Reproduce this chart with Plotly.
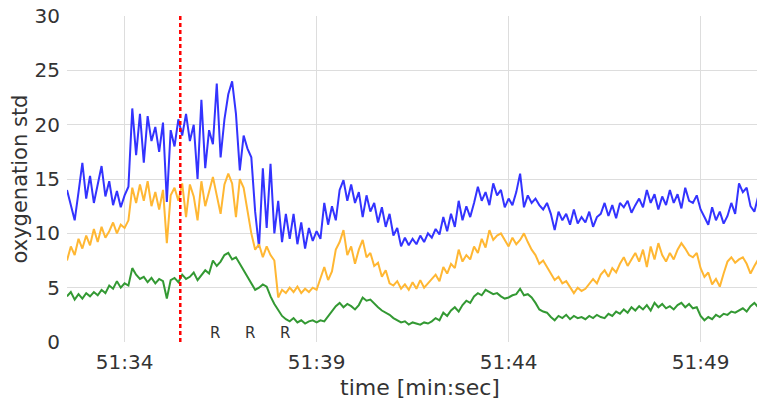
import numpy as np
import plotly.graph_objects as go

# time in seconds past 51:00, sampled every 0.1 s
t_start = 32.5
n_pts = 183
time_s = [round(t_start + 0.1 * i, 2) for i in range(n_pts)]

blue_vals = [
    14.0, 12.5, 11.2, 13.8, 16.5,
    13.2, 15.3, 12.8, 14.6, 16.2, 13.4, 14.8, 12.6, 13.9, 12.4,
    13.5, 14.3, 21.5, 17.2, 21.0, 16.5, 20.8, 18.5, 19.8, 17.5,
    20.2, 12.9, 19.5, 18.0, 20.5, 19.0, 21.0, 18.5, 20.0, 15.0,
    22.3, 16.0, 19.5, 18.2, 23.8, 17.0, 20.5, 22.8, 24.0, 21.0,
    15.8, 19.0, 17.8, 17.0, 12.0, 8.7, 16.0, 10.5, 16.4, 10.0,
    13.0, 9.2, 11.8, 9.5, 11.8, 9.0, 11.0, 8.6, 10.5, 9.3,
    10.2, 9.5, 12.8, 10.8, 12.5, 11.2, 14.0, 14.9, 13.0, 14.5,
    12.8, 13.8, 11.5, 13.5, 12.0, 12.8, 11.0, 12.4, 10.6, 11.8,
    9.8, 10.5, 8.8, 9.6, 8.9, 9.5, 9.0, 9.8, 9.2, 10.0,
    9.6, 10.4, 9.9, 11.5, 10.2, 11.8, 10.6, 13.0, 11.2, 12.5,
    11.5, 12.8, 14.3, 13.0, 13.8, 12.6, 14.6, 13.5, 14.0, 12.4,
    13.2, 12.6, 13.8, 15.5, 12.4, 13.5, 12.8, 13.2, 12.6, 12.2,
    12.8, 11.8, 10.3, 12.0, 11.2, 11.8, 10.8, 12.2, 10.9, 11.5,
    11.0, 12.0, 10.6, 11.5, 11.8, 12.8, 11.6, 12.6, 11.4, 12.8,
    12.4, 13.0, 11.9, 12.6, 13.2, 12.4, 14.0, 12.8, 13.6, 12.2,
    13.4, 12.6, 14.0, 12.8, 13.6, 12.3, 14.2, 13.0, 12.8, 13.5,
    12.2, 11.5, 10.8, 12.4, 11.2, 12.0, 10.9, 11.6, 12.8, 11.8,
    14.6, 13.8, 14.2, 12.5, 12.0, 13.4, 12.6, 13.2,
]

orange_vals = [
    7.5, 8.8, 8.0, 9.5, 8.6,
    9.8, 8.9, 10.4, 9.2, 10.6, 9.6, 10.2, 11.0, 10.0, 10.8,
    10.5, 11.2, 14.2, 12.8, 14.5, 13.0, 14.8, 12.5, 13.8, 12.2,
    14.0, 9.1, 13.5, 14.2, 13.0, 14.6, 11.5, 14.5, 13.4, 11.2,
    14.8, 12.5, 13.8, 15.2, 13.5, 11.8, 14.5, 15.5, 14.6, 11.5,
    15.0, 14.2, 12.1, 10.0, 8.5, 9.0, 7.8, 8.8, 8.0, 7.5,
    4.1, 4.8, 4.5, 5.0, 4.6, 5.1, 4.5, 4.9, 4.6, 5.0,
    4.8, 5.8, 6.9, 5.7, 6.5, 8.5, 9.2, 10.3, 8.0, 8.8,
    7.2, 8.5, 9.4, 7.8, 8.2, 7.0, 7.3, 6.0, 6.6, 5.4,
    5.2, 5.6, 4.9, 5.3, 4.8, 5.5, 4.9, 5.7, 5.0, 5.4,
    5.8, 6.2, 5.6, 6.9, 6.3, 7.2, 6.8, 8.5, 7.4, 8.0,
    7.6, 8.8, 8.2, 9.5, 8.7, 10.3, 9.4, 9.8, 10.0, 9.4,
    8.8, 9.6, 9.0, 9.4, 10.0, 9.2, 8.5, 8.0, 7.2, 7.5,
    6.9, 6.2, 5.7, 6.0, 5.4, 5.6, 5.1, 4.5, 5.0, 4.7,
    4.9, 5.3, 5.8, 5.4, 6.2, 6.6, 6.0, 6.8, 6.4, 7.2,
    7.8, 7.0, 7.6, 8.2, 7.4, 8.5, 6.9, 8.8, 7.6, 9.1,
    8.0, 7.4, 8.2, 7.6, 8.5, 9.1, 8.6, 8.0, 7.8, 8.2,
    6.8, 6.0, 6.4, 5.3, 5.8, 5.1, 6.3, 7.4, 7.8, 7.3,
    7.6, 7.8, 7.2, 6.3, 7.0, 7.6, 8.2, 7.8,
]

green_vals = [
    4.2, 4.6, 3.9, 4.4, 4.0,
    4.5, 4.2, 4.6, 4.3, 4.8, 4.5, 5.2, 4.9, 5.6, 5.0,
    5.4, 5.2, 6.8, 6.2, 5.8, 6.0, 5.5, 5.9, 5.4, 5.8,
    5.6, 4.0, 5.7, 5.9, 5.5, 6.2, 5.8, 6.0, 6.4, 5.7,
    6.1, 6.6, 6.3, 7.5, 7.0, 7.4, 8.0, 8.2, 7.6, 7.8,
    7.2, 6.6, 6.0, 5.5, 4.8, 5.0, 5.3, 5.1, 4.2, 3.5,
    2.9, 2.4, 2.1, 1.9, 2.2, 1.8, 2.0, 1.7, 1.9, 2.0,
    1.8, 2.0, 1.9, 2.4, 2.8, 3.3, 3.6, 3.2, 3.5, 3.3,
    3.0, 3.4, 4.1, 3.8, 3.9, 3.5, 3.2, 2.9, 2.7, 2.5,
    2.2, 2.0, 1.8, 1.9, 1.6, 1.8, 1.7, 1.6, 1.8, 1.7,
    1.9, 2.2, 2.0, 2.7, 2.4, 2.9, 3.2, 2.8, 3.4, 3.8,
    3.6, 4.2, 4.5, 4.3, 4.8, 4.6, 4.4, 4.5, 4.2, 4.0,
    4.1, 4.3, 4.4, 4.9, 4.3, 4.4, 4.1, 3.6, 3.0, 2.8,
    2.7, 2.3, 2.0, 2.4, 2.2, 2.5, 2.1, 2.4, 2.2, 2.3,
    2.1, 2.4, 2.2, 2.5, 2.3, 2.2, 2.6, 2.4, 2.8, 2.6,
    3.0, 2.7, 3.2, 2.9, 3.3, 3.0, 3.4, 2.9, 3.6, 3.2,
    3.5, 3.1, 3.3, 3.0, 3.4, 3.6, 3.2, 3.5, 3.1, 3.2,
    2.4, 2.0, 2.3, 2.1, 2.5, 2.3, 2.6, 2.5, 2.8, 2.7,
    2.9, 3.1, 2.8, 3.3, 3.6, 3.2, 3.4, 3.5,
]

x_tick_vals = [34, 39, 44, 49]
x_tick_text = ["51:34", "51:39", "51:44", "51:49"]
y_tick_vals = [0, 5, 10, 15, 20, 25, 30]

event_time = 35.45
r_times = [36.36, 37.27, 38.18]
r_labels = ["R", "R", "R"]

FONT = "DejaVu Sans"
TXT = "#333333"

# page body has an 8px margin: compensate so the plot area lands where the reference has it
ML, MT, MB = 59, 8, 66
plot_w = 765 - ML
x_end = t_start + plot_w / 38.4

fig = go.Figure()
for vals, col in [(blue_vals, "#3333ff"), (orange_vals, "#ffb733"), (green_vals, "#339933")]:
    fig.add_trace(go.Scatter(x=time_s, y=vals, mode="lines",
                             line=dict(color=col, width=2), showlegend=False,
                             hoverinfo="skip"))

fig.add_shape(type="line", x0=event_time, x1=event_time, y0=0, y1=30,
              xref="x", yref="y", line=dict(color="#ff0000", width=2.5, dash="4px,3px"))

for tx, lab in zip(r_times, r_labels):
    fig.add_annotation(x=tx, y=0, text=lab, showarrow=False, xanchor="center",
                       yanchor="bottom", font=dict(family=FONT, size=15, color=TXT),
                       borderpad=0, yshift=-1)

fig.update_layout(
    width=765, height=400,
    margin=dict(l=ML, r=0, t=MT, b=MB),
    plot_bgcolor="white", paper_bgcolor="white",
    font=dict(family=FONT, color=TXT),
)
fig.update_xaxes(range=[t_start, x_end], tickvals=x_tick_vals, ticktext=x_tick_text,
                 showgrid=True, gridcolor="#dddddd", gridwidth=1, zeroline=False,
                 showline=False, ticks="", tickfont=dict(size=20, color=TXT),
                 ticklabelstandoff=6, automargin=False,
                 title=dict(text="time [min:sec]", font=dict(size=22, color=TXT), standoff=6))
fig.update_yaxes(range=[0, 30.01], tickvals=y_tick_vals,
                 showgrid=True, gridcolor="#dddddd", gridwidth=1, zeroline=False,
                 showline=False, ticks="", tickfont=dict(size=20, color=TXT),
                 ticklabelstandoff=6, automargin=False, ticklabeloverflow="allow",
                 title=dict(text="oxygenation std", font=dict(size=21, color=TXT), standoff=1))

fig.write_html("out.html")
